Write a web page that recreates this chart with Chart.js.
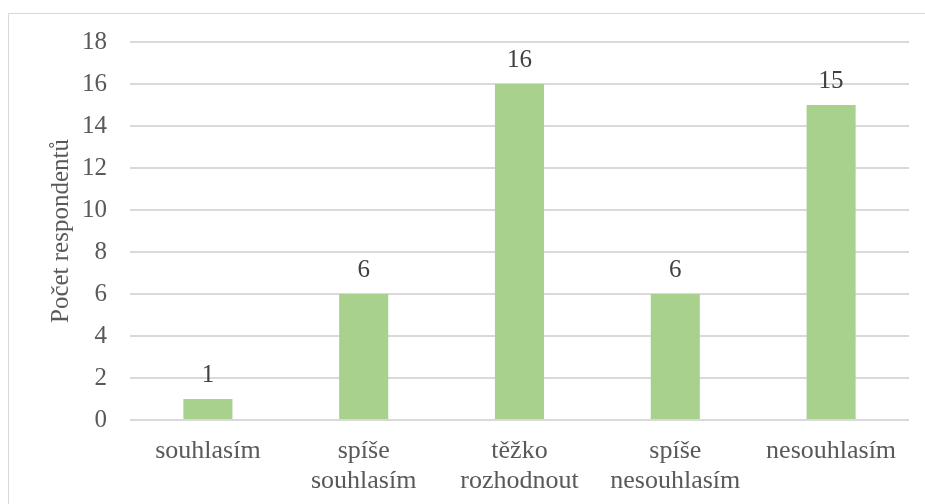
<!DOCTYPE html>
<html>
<head>
<meta charset="utf-8">
<script src="https://cdn.jsdelivr.net/npm/chart.js@4/dist/chart.umd.min.js"></script>
<style>
  html, body { margin: 0; padding: 0; background: #fff; overflow: hidden; }
  #wrap { position: relative; width: 925px; height: 504px; }
  #frame { position: absolute; left: 8px; top: 13px; width: 940px; height: 520px; border: 1px solid #d9d9d9; box-sizing: border-box; }
  canvas { position: absolute; left: 0; top: 0; }
</style>
</head>
<body>
<div id="wrap">
  <div id="frame"></div>
  <canvas id="chart" width="925" height="504"></canvas>
</div>
<script>
// kategorie odpovědí
const categories = [
    'souhlasím',
    ['spíše', 'souhlasím'],
    ['těžko', 'rozhodnout'],
    ['spíše', 'nesouhlasím'],
    'nesouhlasím'
];
// počet respondentů
const counts = [1, 6, 16, 6, 15];
const yTicks = [0, 2, 4, 6, 8, 10, 12, 14, 16, 18];

const fontFamily = '"Liberation Serif", "Times New Roman", serif';

// popisky hodnot nad sloupci
const valueLabels = {
    id: 'valueLabels',
    afterDatasetsDraw(chart) {
        const ctx = chart.ctx;
        const meta = chart.getDatasetMeta(0);
        ctx.save();
        ctx.font = '25px ' + fontFamily;
        ctx.fillStyle = '#404040';
        ctx.textAlign = 'center';
        ctx.textBaseline = 'alphabetic';
        meta.data.forEach((bar, i) => {
            ctx.fillText(String(counts[i]), bar.x, bar.y - 17);
        });
        ctx.restore();
    }
};

new Chart(document.getElementById('chart').getContext('2d'), {
    type: 'bar',
    data: {
        labels: categories,
        datasets: [{
            data: counts,
            backgroundColor: '#a9d18e',
            borderWidth: 0,
            categoryPercentage: 1,
            barPercentage: 0.315
        }]
    },
    options: {
        responsive: false,
        animation: false,
        layout: { padding: { top: 42, right: 16, left: 46, bottom: 0 } },
        plugins: {
            legend: { display: false },
            tooltip: { enabled: false }
        },
        scales: {
            x: {
                grid: { display: false },
                border: { display: false },
                ticks: {
                    color: '#595959',
                    font: { family: fontFamily, size: 26, lineHeight: 1.12 },
                    padding: 9,
                    maxRotation: 0,
                    autoSkip: false
                },
                afterFit(scale) { scale.height = 84; }
            },
            y: {
                min: 0,
                max: 18,
                afterBuildTicks(scale) { scale.ticks = yTicks.map(v => ({ value: v })); },
                grid: { color: '#d9d9d9', lineWidth: 2, drawTicks: false },
                border: { display: false },
                ticks: {
                    color: '#595959',
                    font: { family: fontFamily, size: 25 },
                    padding: 23
                },
                title: {
                    display: true,
                    text: 'Počet respondentů',
                    color: '#595959',
                    font: { family: fontFamily, size: 25 },
                    padding: { top: 0, bottom: 0 }
                },
                afterFit(scale) { scale.width = 84; }
            }
        }
    },
    plugins: [valueLabels]
});
</script>
</body>
</html>
